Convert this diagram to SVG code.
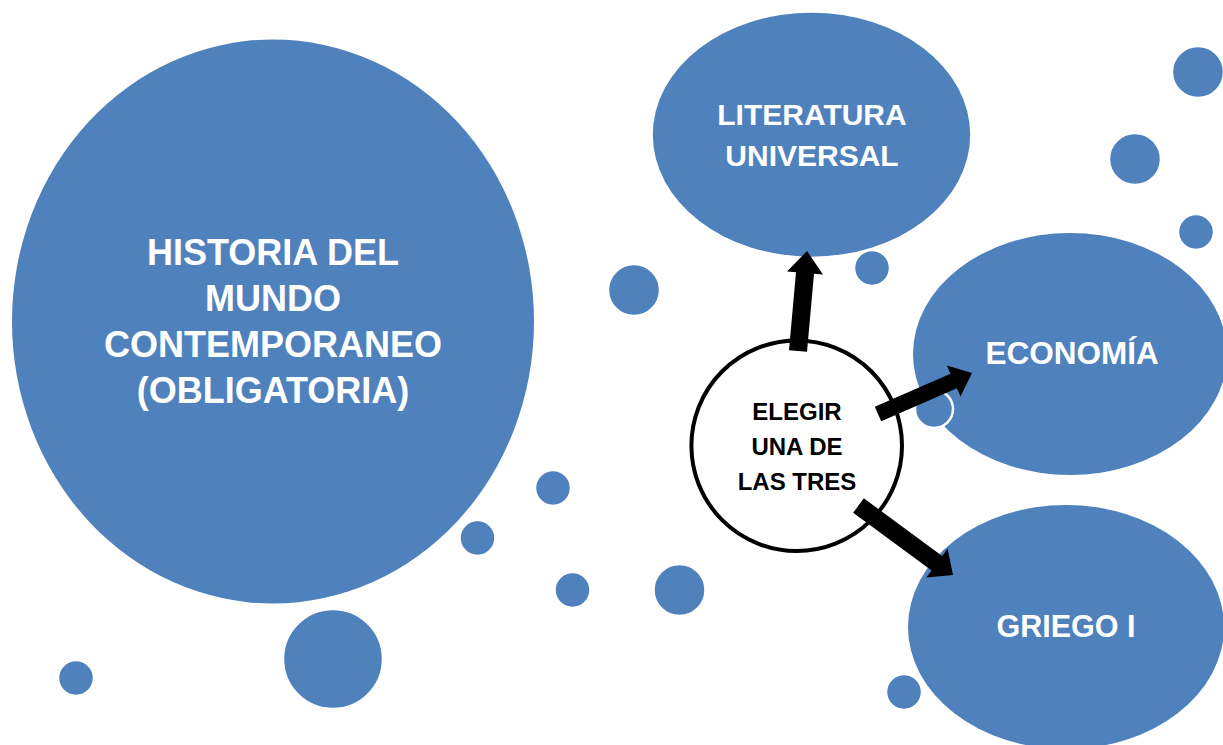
<svg xmlns="http://www.w3.org/2000/svg" width="1223" height="745" viewBox="0 0 1223 745">
<style>
.blob{fill:#4F81BD;}
.dot{fill:#4F81BD;stroke:#FFFFFF;stroke-width:2.5;}
.wt{font-family:"Liberation Sans",Arial,sans-serif;font-weight:bold;fill:#FFFFFF;text-anchor:middle;}
.bt{font-family:"Liberation Sans",Arial,sans-serif;font-weight:bold;fill:#000000;text-anchor:middle;font-size:24px;}
.arrow{fill:#000000;}
</style>
<rect width="1223" height="745" fill="#FFFFFF"/>
<g id="node-historia">
<ellipse class="blob" cx="273" cy="321.5" rx="261" ry="282"/>
<text class="wt" font-size="36" x="273" y="265">HISTORIA DEL</text>
<text class="wt" font-size="36" x="273" y="311">MUNDO</text>
<text class="wt" font-size="36" x="273" y="357">CONTEMPORANEO</text>
<text class="wt" font-size="36" x="273" y="403">(OBLIGATORIA)</text>
</g>
<g id="node-literatura">
<ellipse class="blob" cx="811.5" cy="134.7" rx="158.7" ry="122"/>
<text class="wt" font-size="30" x="812" y="125">LITERATURA</text>
<text class="wt" font-size="30" x="812" y="166">UNIVERSAL</text>
</g>
<g id="node-economia">
<ellipse class="blob" cx="1070" cy="354" rx="157" ry="121"/>
<text class="wt" font-size="31.5" x="1072" y="364">ECONOMÍA</text>
</g>
<g id="node-griego">
<ellipse class="blob" cx="1066" cy="627" rx="158" ry="122"/>
<text class="wt" font-size="30.5" x="1066" y="637">GRIEGO I</text>
</g>
<g id="dots">
<circle class="dot" cx="1198" cy="72" r="26"/>
<circle class="dot" cx="1135" cy="159" r="26"/>
<circle class="dot" cx="1196" cy="232" r="18"/>
<circle class="dot" cx="872" cy="268" r="18"/>
<circle class="dot" cx="634" cy="290" r="26"/>
<circle class="dot" cx="934" cy="409" r="19"/>
<circle class="dot" cx="904" cy="692" r="18"/>
<circle class="dot" cx="553" cy="488" r="18"/>
<circle class="dot" cx="477.5" cy="538" r="18"/>
<circle class="dot" cx="572.5" cy="590" r="18"/>
<circle class="dot" cx="679.5" cy="590" r="26"/>
<circle class="dot" cx="333" cy="659" r="50"/>
<circle class="dot" cx="76" cy="678" r="18"/>
</g>
<g id="node-elegir">
<circle cx="796.7" cy="445.7" r="105.3" fill="#FFFFFF" stroke="#000000" stroke-width="4"/>
<text class="bt" x="797" y="420">ELEGIR</text>
<text class="bt" x="797" y="455">UNA DE</text>
<text class="bt" x="797" y="490">LAS TRES</text>
</g>
<g id="connectors">
<polygon class="arrow" points="789,350.2 796,272.2 787,271.4 807,251 823,274.6 814,273.8 807,351.8"/>
<polygon class="arrow" points="874.8,406.7 950.5,373.7 946.9,365.4 972,373 960.5,396.6 956.9,388.3 881.2,421.3"/>
<polygon class="arrow" points="863.8,498.3 942.2,555.9 947.6,548.6 953,575 926.2,577.6 931.6,570.4 853.2,512.8"/>
</g>
</svg>
